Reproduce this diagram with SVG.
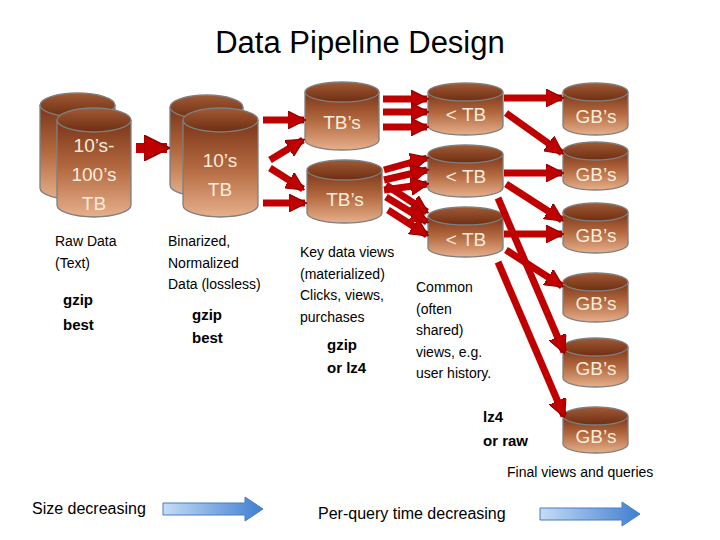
<svg xmlns="http://www.w3.org/2000/svg" width="720" height="540" viewBox="0 0 720 540">
<defs>
<linearGradient id="body" x1="0" y1="0" x2="0" y2="1"><stop offset="0" stop-color="#7a3518"/><stop offset="0.5" stop-color="#b46a40"/><stop offset="1" stop-color="#e6b08c"/></linearGradient>
<linearGradient id="top" x1="0" y1="0" x2="0" y2="1"><stop offset="0" stop-color="#a05a35"/><stop offset="1" stop-color="#6e2e12"/></linearGradient>
<linearGradient id="blue" x1="0" y1="0" x2="1" y2="0"><stop offset="0" stop-color="#c6dcf5"/><stop offset="1" stop-color="#3f7fd0"/></linearGradient>
<marker id="ah" viewBox="0 0 10 10" refX="9" refY="5" markerWidth="2.6" markerHeight="2.6" orient="auto" markerUnits="strokeWidth"><path d="M0,0 L10,5 L0,10 Z" fill="#c00000" stroke="#8a0000" stroke-width="0.6"/></marker>
</defs>
<style>
.cb{fill:url(#body);stroke:#7f7f7f;stroke-width:1.3}
.ct{fill:url(#top);stroke:#7f7f7f;stroke-width:1.3}
.cl{font-family:"Liberation Sans",Arial,sans-serif;font-size:19px;fill:#f8ecdc;text-anchor:middle}
.t{font-family:"Liberation Sans",Arial,sans-serif;font-size:14px;fill:#000}
.b{font-family:"Liberation Sans",Arial,sans-serif;font-size:15px;font-weight:bold;fill:#000}
.ar{stroke:#c00000;stroke-width:7;fill:none;marker-end:url(#ah)}
</style>
<rect width="720" height="540" fill="#fff"/>
<text x="360" y="53" text-anchor="middle" style="font-family:'Liberation Sans',Arial,sans-serif;font-size:31px">Data Pipeline Design</text>

<g id="raw">
<path class="cb" d="M40 105 V188 A37.5 12 0 0 0 115 188 V105"/><ellipse class="ct" cx="77.5" cy="105" rx="37.5" ry="12"/>
<path class="cb" d="M57 120 V205 A37 12 0 0 0 131 205 V120"/><ellipse class="ct" cx="94" cy="120" rx="37" ry="12"/>
<text class="cl" x="94" y="152">10’s-</text><text class="cl" x="94" y="181">100’s</text><text class="cl" x="94" y="210">TB</text>
</g>
<g id="binarized">
<path class="cb" d="M170 107 V185 A36.5 12 0 0 0 243 185 V107"/><ellipse class="ct" cx="206.5" cy="107" rx="36.5" ry="12"/>
<path class="cb" d="M183 120 V205 A37.5 12 0 0 0 258 205 V120"/><ellipse class="ct" cx="220.5" cy="120" rx="37.5" ry="12"/>
<text class="cl" x="220" y="167">10’s</text><text class="cl" x="220" y="196">TB</text>
</g>
<g id="tb1"><path class="cb" d="M305 92 V140 A37 10 0 0 0 379 140 V92"/><ellipse class="ct" cx="342" cy="92" rx="37" ry="10"/><text class="cl" x="342" y="129">TB’s</text></g>
<g id="tb2"><path class="cb" d="M307 170 V213 A37.5 10 0 0 0 382 213 V170"/><ellipse class="ct" cx="344.5" cy="170" rx="37.5" ry="10"/><text class="cl" x="345" y="206">TB’s</text></g>
<g id="ltb1"><path class="cb" d="M428 92 V126 A37.5 9 0 0 0 503 126 V92"/><ellipse class="ct" cx="465.5" cy="92" rx="37.5" ry="9"/><text class="cl" x="466" y="121">&lt; TB</text></g>
<g id="ltb2"><path class="cb" d="M428 154 V188 A37.5 9 0 0 0 503 188 V154"/><ellipse class="ct" cx="465.5" cy="154" rx="37.5" ry="9"/><text class="cl" x="466" y="183">&lt; TB</text></g>
<g id="ltb3"><path class="cb" d="M428 216 V248 A37.5 9 0 0 0 503 248 V216"/><ellipse class="ct" cx="465.5" cy="216" rx="37.5" ry="9"/><text class="cl" x="466" y="246">&lt; TB</text></g>
<g id="gb1"><path class="cb" d="M563 92 V126 A32.5 9 0 0 0 628 126 V92"/><ellipse class="ct" cx="595.5" cy="92" rx="32.5" ry="9"/><text class="cl" x="596" y="123">GB’s</text></g>
<g id="gb2"><path class="cb" d="M563 151 V181 A32.5 9 0 0 0 628 181 V151"/><ellipse class="ct" cx="595.5" cy="151" rx="32.5" ry="9"/><text class="cl" x="596" y="181">GB’s</text></g>
<g id="gb3"><path class="cb" d="M563 212 V244 A32.5 9 0 0 0 628 244 V212"/><ellipse class="ct" cx="595.5" cy="212" rx="32.5" ry="9"/><text class="cl" x="596" y="242">GB’s</text></g>
<g id="gb4"><path class="cb" d="M563 282 V313 A32.5 9 0 0 0 628 313 V282"/><ellipse class="ct" cx="595.5" cy="282" rx="32.5" ry="9"/><text class="cl" x="596" y="310">GB’s</text></g>
<g id="gb5"><path class="cb" d="M563 347 V378 A32.5 9 0 0 0 628 378 V347"/><ellipse class="ct" cx="595.5" cy="347" rx="32.5" ry="9"/><text class="cl" x="596" y="375">GB’s</text></g>
<g id="gb6"><path class="cb" d="M563 416 V444 A32.5 9 0 0 0 628 444 V416"/><ellipse class="ct" cx="595.5" cy="416" rx="32.5" ry="9"/><text class="cl" x="596" y="443">GB’s</text></g>

<g id="connectors">
<line class="ar" x1="136" y1="148" x2="167" y2="148" style="stroke-width:10"/>
<line class="ar" x1="263" y1="120" x2="304" y2="120"/>
<line class="ar" x1="270" y1="160" x2="303" y2="140"/>
<line class="ar" x1="270" y1="168" x2="303" y2="189"/>
<line class="ar" x1="263" y1="203" x2="305" y2="203"/>
<line class="ar" x1="383" y1="99" x2="427" y2="99"/>
<line class="ar" x1="383" y1="112" x2="427" y2="112"/>
<line class="ar" x1="383" y1="127" x2="427" y2="127"/>
<line class="ar" x1="384" y1="170" x2="427" y2="158"/>
<line class="ar" x1="384" y1="180" x2="427" y2="170"/>
<line class="ar" x1="384" y1="190" x2="427" y2="184"/>
<line class="ar" x1="386" y1="185" x2="427" y2="212"/>
<line class="ar" x1="386" y1="197" x2="427" y2="222"/>
<line class="ar" x1="388" y1="210" x2="427" y2="235"/>
<line class="ar" x1="504" y1="98" x2="562" y2="98"/>
<line class="ar" x1="506" y1="113" x2="562" y2="153"/>
<line class="ar" x1="504" y1="173" x2="562" y2="173"/>
<line class="ar" x1="506" y1="184" x2="562" y2="220"/>
<line class="ar" x1="504" y1="234" x2="562" y2="234"/>
<line class="ar" x1="506" y1="250" x2="562" y2="286"/>
<line class="ar" x1="498" y1="198" x2="564" y2="352"/>
<line class="ar" x1="498" y1="262" x2="564" y2="416"/>
</g>

<text class="t" x="55" y="246">Raw Data</text><text class="t" x="55" y="268">(Text)</text>
<text class="b" x="63" y="305">gzip</text><text class="b" x="63" y="330">best</text>
<text class="t" x="168" y="246">Binarized,</text><text class="t" x="168" y="268">Normalized</text><text class="t" x="168" y="289">Data (lossless)</text>
<text class="b" x="192" y="320">gzip</text><text class="b" x="192" y="343">best</text>
<text class="t" x="300" y="257">Key data views</text><text class="t" x="300" y="279">(materialized)</text><text class="t" x="300" y="300">Clicks, views,</text><text class="t" x="300" y="322">purchases</text>
<text class="b" x="327" y="350">gzip</text><text class="b" x="327" y="373">or lz4</text>
<text class="t" x="416" y="292">Common</text><text class="t" x="416" y="314">(often</text><text class="t" x="416" y="335">shared)</text><text class="t" x="416" y="357">views, e.g.</text><text class="t" x="416" y="378">user history.</text>
<text class="b" x="483" y="422">lz4</text><text class="b" x="483" y="446">or raw</text>
<text class="t" x="507" y="477">Final views and queries</text>
<text class="t" x="32" y="514" style="font-size:16px">Size decreasing</text>
<text class="t" x="318" y="519" style="font-size:16px">Per-query time decreasing</text>
<path d="M163 503 H245 V497 L263 509 L245 521 V515 H163 Z" fill="url(#blue)" stroke="#4a7cc0" stroke-width="1"/>
<path d="M540 508 H622 V502 L640 514 L622 526 V520 H540 Z" fill="url(#blue)" stroke="#4a7cc0" stroke-width="1"/>
</svg>
